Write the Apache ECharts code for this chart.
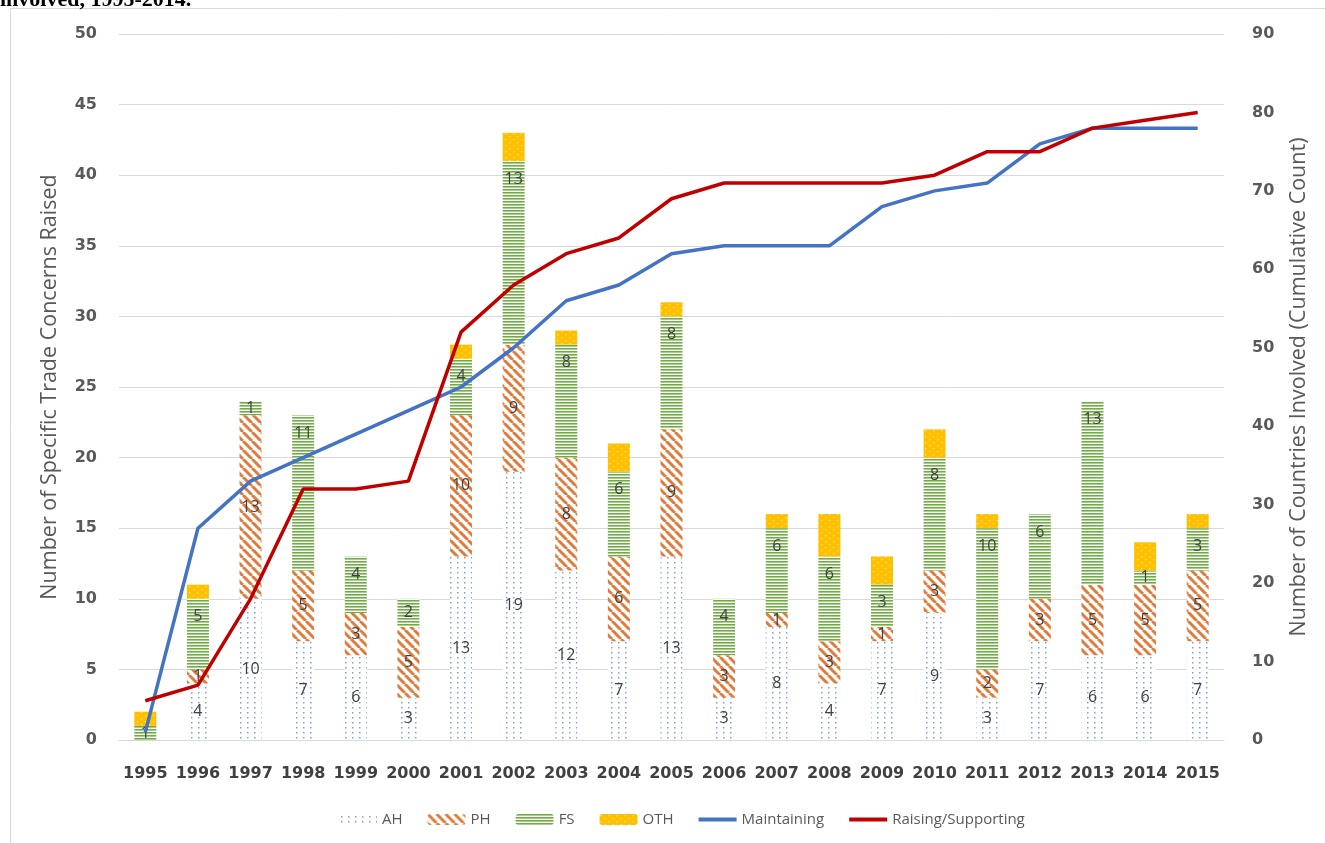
<!DOCTYPE html>
<html lang="en">
<head>
<meta charset="UTF-8">
<title>Specific Trade Concerns</title>
<style type="text/css">
    body, html {
        width: 100%;
        height: 100%;
        margin: 0;
        padding: 0;
        background: #fff;
    }
    #chart {
        width: 1325px;
        height: 843px;
    }
</style>
</head>
<body>
<div id="chart"></div>
<script src="https://cdn.jsdelivr.net/npm/echarts@6/dist/echarts.min.js"></script>
<script type="text/javascript">

var years = ['1995','1996','1997','1998','1999','2000','2001','2002','2003','2004','2005',
             '2006','2007','2008','2009','2010','2011','2012','2013','2014','2015'];

var ah  = [0, 4, 10, 7, 6, 3, 13, 19, 12, 7, 13, 3, 8, 4, 7, 9, 3, 7, 6, 6, 7];
var ph  = [0, 1, 13, 5, 3, 5, 10, 9, 8, 6, 9, 3, 1, 3, 1, 3, 2, 3, 5, 5, 5];
var fs  = [1, 5, 1, 11, 4, 2, 4, 13, 8, 6, 8, 4, 6, 6, 3, 8, 10, 6, 13, 1, 3];
var oth = [1, 1, 0, 0, 0, 0, 1, 2, 1, 2, 1, 0, 1, 3, 2, 2, 1, 0, 0, 2, 1];

var maintaining = [1, 27, 33, 36, 39, 42, 45, 50, 56, 58, 62, 63, 63, 63, 68, 70, 71, 76, 78, 78, 78];
var raising     = [5, 7, 18, 32, 32, 33, 52, 58, 62, 64, 69, 71, 71, 71, 71, 72, 75, 75, 78, 79, 80];

// hatch fills, drawn on small canvases
function makeTile(w, h, draw) {
    var c = document.createElement('canvas');
    c.width = w;
    c.height = h;
    var ctx = c.getContext('2d');
    draw(ctx, w, h);
    return { image: c, repeat: 'repeat' };
}

var ahFill = makeTile(7, 5, function(ctx, w, h) {
    ctx.fillStyle = '#ffffff';
    ctx.fillRect(0, 0, w, h);
    ctx.fillStyle = '#7f9fd6';
    ctx.fillRect(2, 2, 1.5, 1.5);
});

var phFill = makeTile(9, 9, function(ctx, w, h) {
    ctx.fillStyle = '#ffffff';
    ctx.fillRect(0, 0, w, h);
    ctx.strokeStyle = '#e07b3c';
    ctx.lineWidth = 3;
    ctx.beginPath();
    for (var k = -1; k <= 1; k++) {
        ctx.moveTo(k * w, 0);
        ctx.lineTo(k * w + w, h);
    }
    ctx.stroke();
});

var fsFill = makeTile(4, 3, function(ctx, w, h) {
    ctx.fillStyle = '#ffffff';
    ctx.fillRect(0, 0, w, h);
    ctx.fillStyle = '#6fac46';
    ctx.fillRect(0, 0, w, 1.6);
});

var othFill = makeTile(8, 6, function(ctx, w, h) {
    ctx.fillStyle = '#ffc000';
    ctx.fillRect(0, 0, w, h);
    ctx.fillStyle = '#ffe38a';
    ctx.fillRect(1, 1, 1.3, 1.3);
    ctx.fillRect(5, 4, 1.3, 1.3);
});

function barLabel(show, pos, dist) {
    return {
        show: show,
        position: pos,
        distance: dist,
        color: '#404040',
        fontSize: 16,
        fontFamily: 'Open Sans',
        formatter: function(p) { return p.value ? p.value : ''; }
    };
}

function barSeries(name, data, fill, label) {
    return {
        name: name,
        type: 'bar',
        stack: 'stc',
        barWidth: 22,
        data: data,
        itemStyle: { color: fill },
        label: label,
        z: 2
    };
}

function lineSeries(name, data, color) {
    return {
        name: name,
        type: 'line',
        yAxisIndex: 1,
        data: data,
        symbol: 'none',
        lineStyle: { color: color, width: 3.5 },
        itemStyle: { color: color },
        z: 5
    };
}

// FS labels sit near the top of their segment, small segments stay centred
var fsData = fs.map(function(v) {
    return v > 2 ? { value: v, label: { position: 'insideTop', distance: 10 } } : v;
});

var lineIcon = 'path://M0,0 L38,0 L38,4 L0,4 Z';

var chart = echarts.init(document.getElementById('chart'));

var option = {
    backgroundColor: '#ffffff',
    animation: false,
    graphic: [{
        type: 'rect',
        shape: { x: 10.5, y: 8.5, width: 1330, height: 850 },
        style: { fill: 'none', stroke: '#d9d9d9', lineWidth: 1 }
    }, {
        type: 'text',
        x: 0,
        y: -11,
        style: {
            text: 'involved, 1995-2014.',
            font: 'bold 22px "Liberation Serif"',
            fill: '#000000',
            verticalAlign: 'top'
        }
    }],
    grid: {
        left: 119,
        right: 101,
        top: 34,
        bottom: 103
    },
    legend: {
        bottom: 11,
        left: 334,
        itemWidth: 38,
        itemHeight: 11,
        itemGap: 25,
        symbolKeepAspect: true,
        textStyle: { color: '#595959', fontSize: 15, fontFamily: 'Open Sans' },
        data: ['AH', 'PH', 'FS', 'OTH',
            { name: 'Maintaining', icon: lineIcon },
            { name: 'Raising/Supporting', icon: lineIcon }]
    },
    xAxis: {
        type: 'category',
        data: years,
        axisLine: { lineStyle: { color: '#d9d9d9' } },
        axisTick: { show: false },
        axisLabel: {
            interval: 0,
            color: '#404040',
            fontSize: 16,
            fontWeight: 'bold',
            fontFamily: 'DejaVu Sans',
            margin: 26
        }
    },
    yAxis: [{
        type: 'value',
        min: 0,
        max: 50,
        interval: 5,
        name: 'Number of Specific Trade Concerns Raised',
        nameLocation: 'middle',
        nameGap: 58,
        nameTextStyle: { color: '#595959', fontSize: 21.5, fontFamily: 'Open Sans' },
        axisLine: { show: false },
        axisTick: { show: false },
        splitLine: { lineStyle: { color: '#d9d9d9' } },
        axisLabel: {
            color: '#595959',
            fontSize: 16,
            fontWeight: 'bold',
            fontFamily: 'DejaVu Sans',
            margin: 22
        }
    }, {
        type: 'value',
        min: 0,
        max: 90,
        interval: 10,
        name: 'Number of Countries Involved (Cumulative Count)',
        nameLocation: 'middle',
        nameGap: 64,
        nameTextStyle: { color: '#595959', fontSize: 21.5, fontFamily: 'Open Sans' },
        axisLine: { show: false },
        axisTick: { show: false },
        splitLine: { show: false },
        axisLabel: {
            color: '#595959',
            fontSize: 16,
            fontWeight: 'bold',
            fontFamily: 'DejaVu Sans',
            margin: 28
        }
    }],
    series: [
        barSeries('AH', ah, ahFill, barLabel(true, 'inside', 5)),
        barSeries('PH', ph, phFill, barLabel(true, 'inside', 5)),
        barSeries('FS', fsData, fsFill, barLabel(true, 'inside', 5)),
        barSeries('OTH', oth, othFill, barLabel(false, 'inside', 5)),
        lineSeries('Maintaining', maintaining, '#4472c4'),
        lineSeries('Raising/Supporting', raising, '#c00000')
    ]
};

chart.setOption(option);
</script>
</body>
</html>
